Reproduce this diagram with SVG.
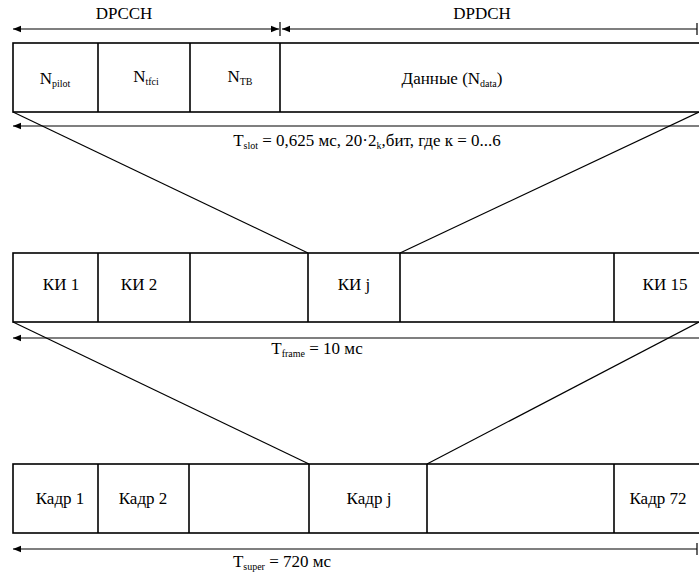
<svg xmlns="http://www.w3.org/2000/svg" width="699" height="573" viewBox="0 0 699 573">
<style>
.ln{stroke:#000;stroke-width:1.6;fill:none}
.th{stroke:#000;stroke-width:1.2;fill:none}
.bx{stroke:#000;stroke-width:1.6;fill:#fff}
.t{font-family:"Liberation Serif","Times New Roman",serif;font-size:17px;fill:#000;text-anchor:middle}
.s{font-size:10px}
</style>
<defs>
<marker id="ah" viewBox="0 0 10 10" refX="10" refY="5" markerWidth="8" markerHeight="8" markerUnits="userSpaceOnUse" orient="auto-start-reverse">
<path d="M0,1 L10,5 L0,9 Z" fill="#000"/>
</marker>
</defs>
<rect width="699" height="573" fill="#fff"/>

<g id="connectors">
<line class="th" x1="13" y1="29" x2="279" y2="29" marker-start="url(#ah)" marker-end="url(#ah)"/>
<line class="th" x1="282" y1="29" x2="697" y2="29" marker-start="url(#ah)"/>
<line class="th" x1="280" y1="22" x2="280" y2="36"/>
<line class="th" x1="697" y1="23" x2="697" y2="35"/>
<line class="th" x1="13" y1="126" x2="699" y2="126" marker-start="url(#ah)"/>
<line class="th" x1="13" y1="338" x2="699" y2="338" marker-start="url(#ah)"/>
<line class="th" x1="13" y1="549" x2="697" y2="549" marker-start="url(#ah)"/>
<line class="th" x1="697" y1="543" x2="697" y2="555"/>
<line class="th" x1="13" y1="112" x2="308" y2="253"/>
<line class="th" x1="699" y1="112" x2="400" y2="253"/>
<line class="th" x1="13" y1="322" x2="309" y2="464"/>
<line class="th" x1="699" y1="322" x2="427" y2="464"/>
</g>

<g id="labels">
<text class="t" x="124" y="19">DPCCH</text>
<text class="t" x="482" y="19">DPDCH</text>
<text class="t" x="367" y="146">T<tspan class="s" dy="3">slot</tspan><tspan dy="-3"> = 0,625 мс, 20·2</tspan><tspan class="s" dy="3">k</tspan><tspan dy="-3">,бит, где к = 0...6</tspan></text>
<text class="t" x="317" y="354">T<tspan class="s" dy="3">frame</tspan><tspan dy="-3"> = 10 мс</tspan></text>
<text class="t" x="282" y="567">T<tspan class="s" dy="3">super</tspan><tspan dy="-3"> = 720 мс</tspan></text>
</g>

<g id="slot">
<rect class="bx" x="13" y="43" width="688" height="69"/>
<line class="ln" x1="98" y1="43" x2="98" y2="112"/>
<line class="ln" x1="190" y1="43" x2="190" y2="112"/>
<line class="ln" x1="280" y1="43" x2="280" y2="112"/>
</g>
<g id="n-pilot"><text class="t" x="55" y="84">N<tspan class="s" dy="3">pilot</tspan></text></g>
<g id="n-tfci"><text class="t" x="146" y="82">N<tspan class="s" dy="3">tfci</tspan></text></g>
<g id="n-tb"><text class="t" x="240" y="82">N<tspan class="s" dy="3">TB</tspan></text></g>
<g id="data"><text class="t" x="452" y="84">Данные (N<tspan class="s" dy="3">data</tspan><tspan dy="-3">)</tspan></text></g>

<g id="frame">
<rect class="bx" x="13" y="253" width="688" height="69"/>
<line class="ln" x1="98" y1="253" x2="98" y2="322"/>
<line class="ln" x1="190" y1="253" x2="190" y2="322"/>
<line class="ln" x1="308" y1="253" x2="308" y2="322"/>
<line class="ln" x1="400" y1="253" x2="400" y2="322"/>
<line class="ln" x1="614" y1="253" x2="614" y2="322"/>
</g>
<g id="ki1"><text class="t" x="61" y="290">КИ 1</text></g>
<g id="ki2"><text class="t" x="139" y="290">КИ 2</text></g>
<g id="kij"><text class="t" x="354" y="290">КИ j</text></g>
<g id="ki15"><text class="t" x="665" y="290">КИ 15</text></g>

<g id="superframe">
<rect class="bx" x="13" y="464" width="688" height="69"/>
<line class="ln" x1="98" y1="464" x2="98" y2="533"/>
<line class="ln" x1="189" y1="464" x2="189" y2="533"/>
<line class="ln" x1="309" y1="464" x2="309" y2="533"/>
<line class="ln" x1="427" y1="464" x2="427" y2="533"/>
<line class="ln" x1="614" y1="464" x2="614" y2="533"/>
</g>
<g id="kadr1"><text class="t" x="60" y="504">Кадр 1</text></g>
<g id="kadr2"><text class="t" x="143" y="504">Кадр 2</text></g>
<g id="kadrj"><text class="t" x="369" y="504">Кадр j</text></g>
<g id="kadr72"><text class="t" x="658" y="504">Кадр 72</text></g>
</svg>
